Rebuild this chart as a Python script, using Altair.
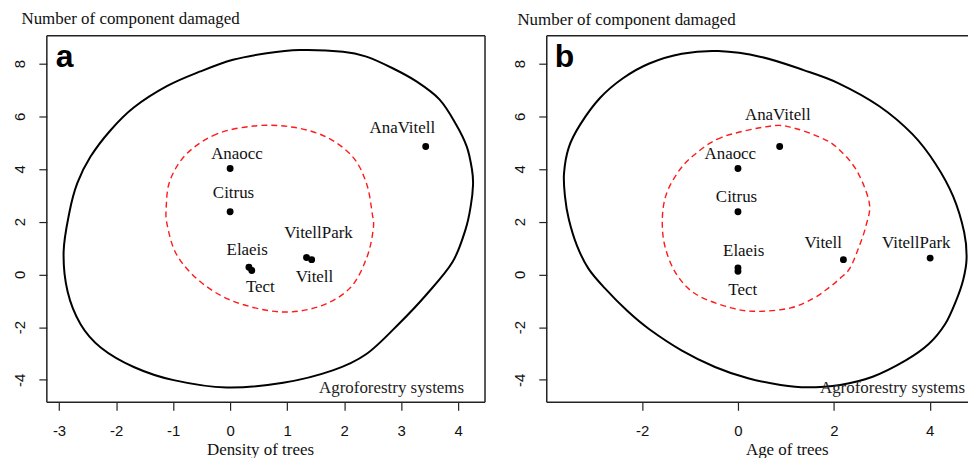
import altair as alt
import pandas as pd

# ---------------- data ----------------
names = ["Anaocc", "Citrus", "AnaVitell", "Elaeis", "Tect", "VitellPark", "Vitell"]

# panel a : Density of trees
a_x = [0.0, 0.0, 3.43, 0.33, 0.38, 1.34, 1.43]
a_y = [4.02, 2.38, 4.85, 0.27, 0.15, 0.64, 0.56]
a_lx = [0.12, 0.06, 3.02, 0.30, 0.53, 1.55, 1.48]
a_ly = [4.58, 3.07, 5.56, 0.91, -0.49, 1.57, -0.11]

a_outer_x = [1.98, 1.22, 0.64, 0.05, -0.52, -1.11, -1.69, -2.10, -2.45, -2.68, -2.82, -2.92,
             -2.85, -2.62, -2.27, -1.69, -0.99, -0.06, 0.93, 1.80, 2.39, 2.97, 3.44, 3.90,
             4.13, 4.22, 4.26, 4.24, 4.15, 3.96, 3.67, 3.26, 2.85, 2.39]
a_outer_y = [8.45, 8.51, 8.39, 8.14, 7.70, 7.14, 6.33, 5.46, 4.46, 3.46, 2.34, 0.85,
             -0.65, -1.90, -2.77, -3.51, -4.01, -4.29, -4.11, -3.64, -3.02, -1.85, -0.77, 0.47,
             1.72, 2.60, 3.40, 4.00, 4.85, 5.70, 6.64, 7.33, 7.82, 8.26]
a_inner_x = [0.47, -0.23, -0.76, -1.05, -1.12, -1.10, -0.93, -0.52, 0.06, 0.87, 1.57, 2.10,
             2.39, 2.51, 2.49, 2.39, 2.15, 1.69, 1.11]
a_inner_y = [5.64, 5.33, 4.58, 3.59, 2.59, 1.84, 0.72, -0.28, -1.02, -1.42, -1.21, -0.52,
             0.60, 1.72, 2.34, 3.46, 4.46, 5.21, 5.58]

# panel b : Age of trees
b_x = [0.0, 0.0, 0.87, 0.0, 0.0, 4.01, 2.20]
b_y = [4.02, 2.38, 4.85, 0.25, 0.12, 0.62, 0.56]
b_lx = [-0.16, -0.03, 0.83, 0.12, 0.10, 3.72, 1.78]
b_ly = [4.55, 2.92, 6.04, 0.88, -0.61, 1.19, 1.19]

b_outer_x = [-0.41, -1.17, -1.85, -2.40, -2.88, -3.29, -3.53, -3.63, -3.61, -3.53, -3.36, -3.12,
             -2.78, -2.30, -1.85, -1.17, -0.48, 0.21, 0.89, 1.44, 2.13, 2.81, 3.50, 3.98,
             4.32, 4.55, 4.70, 4.77, 4.72, 4.49, 4.12, 3.64, 2.95, 2.10, 1.37, 0.48]
b_outer_y = [8.47, 8.37, 8.00, 7.44, 6.69, 5.69, 4.82, 3.83, 2.96, 2.09, 1.09, 0.22,
             -0.52, -1.40, -2.08, -2.89, -3.51, -3.94, -4.19, -4.28, -4.19, -3.88, -3.26, -2.64,
             -1.89, -1.00, -0.20, 0.60, 1.60, 2.96, 4.20, 5.32, 6.38, 7.25, 7.75, 8.25]
b_inner_x = [0.69, -0.34, -0.93, -1.27, -1.51, -1.58, -1.51, -1.27, -0.86, -0.14, 0.41, 1.10,
             1.58, 1.90, 2.13, 2.33, 2.51, 2.67, 2.74, 2.47, 2.06, 1.71, 1.17]
b_inner_y = [5.63, 5.20, 4.51, 3.83, 2.96, 1.96, 0.97, -0.03, -0.77, -1.27, -1.40, -1.27,
             -0.90, -0.50, -0.15, 0.22, 0.97, 1.84, 2.71, 3.96, 4.82, 5.20, 5.55]

y_ticks = [-4, -2, 0, 2, 4, 6, 8]
a_x_ticks = [-3, -2, -1, 0, 1, 2, 3, 4]
b_x_ticks = [-2, 0, 2, 4]
y_title = "Number of component damaged"
note = "Agroforestry systems"

SERIF = "Liberation Serif"
SANS = "Liberation Sans"
H = 368


def panel(px, py, lx, ly, ox, oy, ix, iy, xdom, xticks, xtitle, W,
          letter, letter_x, ytitle_x, ytitle_y, xtitle_x, note_x, right_border):
    pts = pd.DataFrame({"x": px, "y": py, "name": names})
    labs = pd.DataFrame({"x": lx, "y": ly, "name": names})
    outer = pd.DataFrame({"x": ox, "y": oy, "i": list(range(len(ox)))})
    inner = pd.DataFrame({"x": ix, "y": iy, "i": list(range(len(ix)))})

    X = alt.X("x:Q", scale=alt.Scale(domain=xdom, nice=False, zero=False),
              axis=alt.Axis(values=xticks, title=xtitle, grid=False, domain=False,
                            labelExpr="toString(datum.value)",
                            tickSize=8, tickColor="#222", tickWidth=1.2,
                            labelFont=SANS, labelFontSize=15, labelColor="#111",
                            labelPadding=13, labelOverlap=False, labelFlush=False,
                            titleFont=SERIF, titleFontSize=17, titleFontWeight="normal",
                            titleColor="#111", titleAnchor="start", titleAlign="center",
                            titleX=xtitle_x, titleY=52, titleBaseline="alphabetic"))
    Y = alt.Y("y:Q", scale=alt.Scale(domain=[-4.85, 9.05], nice=False, zero=False),
              axis=alt.Axis(values=y_ticks, title=y_title, grid=False, domain=False,
                            labelExpr="toString(datum.value)",
                            tickSize=8, tickColor="#222", tickWidth=1.2,
                            labelFont=SANS, labelFontSize=15, labelColor="#111",
                            labelAngle=-90, labelAlign="center", labelBaseline="bottom",
                            labelPadding=11, labelOverlap=False, labelFlush=False,
                            titleFont=SERIF, titleFontSize=17, titleFontWeight="normal",
                            titleColor="#111", titleAngle=0, titleAlign="left",
                            titleBaseline="alphabetic", titleX=ytitle_x, titleY=ytitle_y))

    outer_line = alt.Chart(outer).mark_line(color="black", strokeWidth=2,
                                            interpolate="cardinal-closed").encode(
        x=X, y=Y, order="i:Q")
    inner_line = alt.Chart(inner).mark_line(color="#ff1a1a", strokeWidth=1.4,
                                            strokeDash=[6, 4],
                                            interpolate="cardinal-closed").encode(
        x=X, y=Y, order="i:Q")
    dots = alt.Chart(pts).mark_circle(color="black", size=48, opacity=1).encode(x=X, y=Y)
    texts = alt.Chart(labs).mark_text(font=SERIF, fontSize=17, color="#111",
                                      align="center", baseline="middle").encode(
        x=X, y=Y, text="name:N")
    letter_mark = alt.Chart(pd.DataFrame({"t": [letter]})).mark_text(
        font=SANS, fontSize=32, fontWeight="bold", color="black", align="left",
        baseline="alphabetic").encode(x=alt.value(letter_x), y=alt.value(31), text="t:N")
    note_mark = alt.Chart(pd.DataFrame({"t": [note]})).mark_text(
        font=SERIF, fontSize=17, color="#222", align="right", baseline="alphabetic").encode(
        x=alt.value(note_x), y=alt.value(H - 9), text="t:N")

    d = pd.DataFrame({"k": [0]})
    top = alt.Chart(d).mark_rule(color="#222", strokeWidth=1.5).encode(
        x=alt.value(0), x2=alt.value(W), y=alt.value(0))
    bottom = alt.Chart(d).mark_rule(color="#222", strokeWidth=1.5).encode(
        x=alt.value(0), x2=alt.value(W), y=alt.value(H))
    left = alt.Chart(d).mark_rule(color="#222", strokeWidth=1.5).encode(
        x=alt.value(0), y=alt.value(0), y2=alt.value(H))
    layers = [outer_line, inner_line, dots, texts, letter_mark, note_mark, top, bottom, left]
    if right_border:
        layers.append(alt.Chart(d).mark_rule(color="#222", strokeWidth=1.5).encode(
            x=alt.value(W), y=alt.value(0), y2=alt.value(H)))
    return alt.layer(*layers).properties(width=W, height=H)


pa = panel(a_x, a_y, a_lx, a_ly, a_outer_x, a_outer_y, a_inner_x, a_inner_y,
           [-3.214, 4.47], a_x_ticks, "Density of trees", 440,
           "a", 9, -26, -12.5, 214, 419, True)
pb = panel(b_x, b_y, b_lx, b_ly, b_outer_x, b_outer_y, b_inner_x, b_inner_y,
           [-3.99, 4.80], b_x_ticks, "Age of trees", 423,
           "b", 8, -30, -11, 241, 420, False)

chart = alt.hconcat(pa, pb, spacing=26).properties(
    padding={"left": 4, "top": 0, "right": 0, "bottom": 0},
    background="white",
).configure_view(stroke=None)

chart.save("out.html", embed_options={"renderer": "svg", "actions": False})
